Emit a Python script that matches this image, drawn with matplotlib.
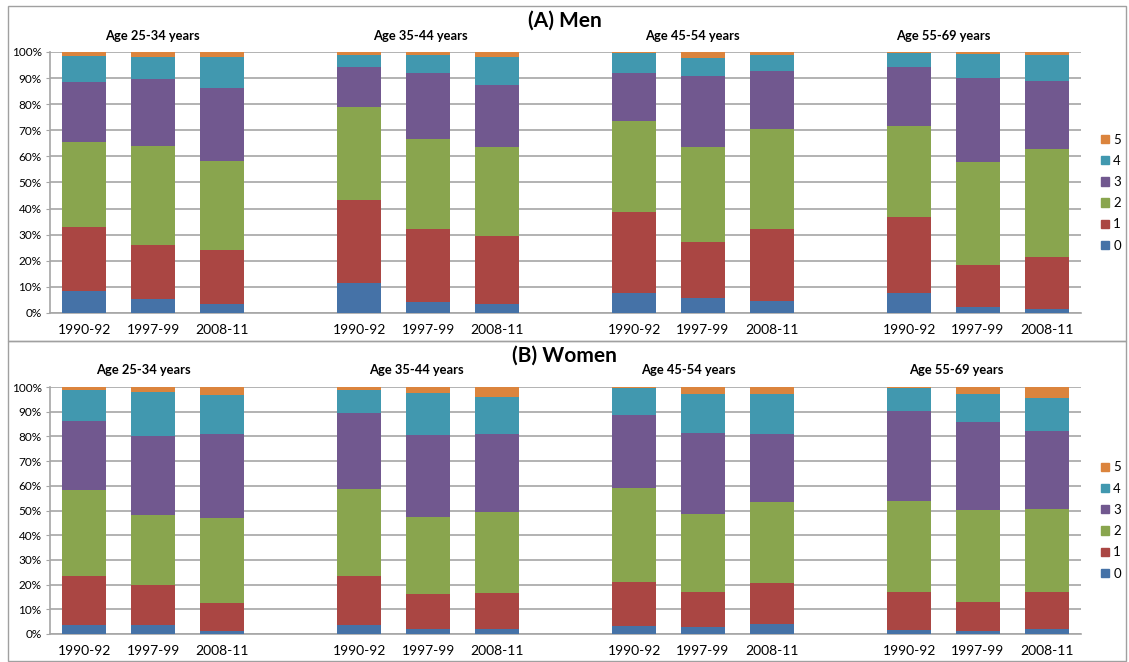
import matplotlib.pyplot as plt
from matplotlib.patches import Patch, Rectangle
from matplotlib.ticker import PercentFormatter

plt.rcParams['font.family'] = ['Lato', 'DejaVu Sans']

# categorias
periods = ['1990-92', '1997-99', '2008-11']
age_groups = ['Age 25-34 years', 'Age 35-44 years', 'Age 45-54 years', 'Age 55-69 years']
levels = ['0', '1', '2', '3', '4', '5']

# porcentajes por nivel (4 grupos de edad x 3 periodos)
men_0 = [8.6, 5.4, 3.4, 11.5, 4.3, 3.4, 7.8, 5.7, 4.5, 7.7, 2.4, 1.4]
men_1 = [24.2, 20.8, 20.6, 31.9, 27.8, 26.0, 30.8, 21.5, 27.8, 29.0, 16.1, 19.9]
men_2 = [32.8, 37.9, 34.2, 35.4, 34.6, 34.1, 35.0, 36.5, 38.3, 35.1, 39.5, 41.7]
men_3 = [22.8, 25.7, 28.1, 15.6, 25.4, 24.0, 18.5, 27.2, 22.2, 22.6, 32.0, 25.8]
men_4 = [9.9, 8.4, 11.9, 4.6, 6.9, 10.7, 7.4, 6.9, 5.9, 5.1, 9.2, 10.2]
men_5 = [1.7, 1.8, 1.8, 1.0, 1.0, 1.8, 0.5, 2.2, 1.3, 0.5, 0.8, 1.0]

women_0 = [3.5, 3.8, 1.2, 3.6, 2.0, 2.0, 3.4, 2.7, 3.9, 1.5, 1.2, 2.2]
women_1 = [20.0, 16.2, 11.5, 19.7, 14.2, 14.7, 17.8, 14.2, 16.7, 15.6, 11.9, 14.9]
women_2 = [34.9, 28.2, 34.3, 35.5, 31.2, 32.7, 37.8, 31.5, 33.0, 36.9, 37.2, 33.5]
women_3 = [28.0, 32.1, 34.1, 30.8, 33.2, 31.7, 29.8, 33.0, 27.5, 36.3, 35.4, 31.4]
women_4 = [12.5, 17.8, 15.8, 9.3, 17.1, 14.9, 10.7, 15.9, 16.1, 9.4, 11.3, 13.4]
women_5 = [1.1, 1.9, 3.1, 1.1, 2.3, 4.0, 0.5, 2.7, 2.8, 0.3, 3.0, 4.6]

colors = ['#4572A7', '#AA4643', '#89A54E', '#71588F', '#4198AF', '#DB843D']
grid_color = '#a6a6a6'


def stacked_panel(fig, rect, series, title, title_y, sub_x, sub_y, legend_y):
    ax = fig.add_axes(rect)
    xs = [g * 4 + p for g in range(len(age_groups)) for p in range(len(periods))]
    bottom = [0.0] * len(xs)
    for vals, col in zip(series, colors):
        ax.bar(xs, vals, width=0.64, bottom=bottom, color=col, zorder=3)
        bottom = [b + v for b, v in zip(bottom, vals)]

    ax.set_xlim(-0.5, 14.5)
    ax.set_ylim(0, 100)
    ax.set_yticks(range(0, 101, 10))
    ax.yaxis.set_major_formatter(PercentFormatter(decimals=0))
    ax.set_xticks(xs)
    ax.set_xticklabels(periods * len(age_groups), fontsize=10)
    ax.tick_params(axis='y', labelsize=8.5, length=3, color=grid_color, pad=3)
    ax.tick_params(axis='x', length=0, pad=8)
    ax.grid(axis='y', color=grid_color, linewidth=1.2, zorder=0)
    for s in ['top', 'right']:
        ax.spines[s].set_visible(False)
    for s in ['left', 'bottom']:
        ax.spines[s].set_color(grid_color)
        ax.spines[s].set_linewidth(1.2)

    # titulos de los grupos de edad
    for x, name in zip(sub_x, age_groups):
        ax.text(x, sub_y, name, transform=ax.get_xaxis_transform(),
                ha='center', va='center', fontsize=9.3, fontweight='bold')

    fig.text(0.5, title_y, title, ha='center', va='center',
             fontsize=15, fontweight='bold')

    handles = [Patch(color=c, label=l) for c, l in zip(colors, levels)][::-1]
    fig.legend(handles=handles, loc='center left', bbox_to_anchor=(0.969, legend_y),
               frameon=False, fontsize=9.5, handlelength=0.6, handleheight=0.6,
               handletextpad=0.35, labelspacing=0.7, borderpad=0)
    return ax


fig = plt.figure(figsize=(11.29, 6.62), dpi=100)

# marcos de los dos paneles
fig.add_artist(Rectangle((0.0071, 0.4849), 0.9902, 0.5061, transform=fig.transFigure,
                         fill=False, edgecolor='#a0a0a0', linewidth=1))
fig.add_artist(Rectangle((0.0071, 0.0015), 0.9902, 0.4834, transform=fig.transFigure,
                         fill=False, edgecolor='#a0a0a0', linewidth=1))

stacked_panel(fig, [0.0443, 0.5272, 0.9132, 0.3943],
              [men_0, men_1, men_2, men_3, men_4, men_5],
              '(A) Men', 0.969, [0.99, 4.89, 8.85, 12.49], 1.062, 0.709)

stacked_panel(fig, [0.0443, 0.0423, 0.9132, 0.3731],
              [women_0, women_1, women_2, women_3, women_4, women_5],
              '(B) Women', 0.463, [0.86, 4.83, 8.79, 12.68], 1.07, 0.2137)

fig.savefig('out.png', dpi=100)
